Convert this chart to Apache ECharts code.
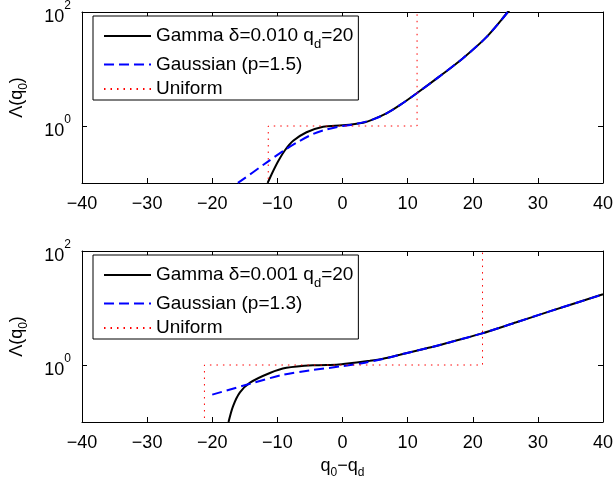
<!DOCTYPE html>
<html>
<head>
<meta charset="utf-8">
<script src="https://cdn.jsdelivr.net/npm/echarts@6/dist/echarts.min.js"></script>
<style>
  html, body { margin: 0; padding: 0; background: #fff; }
  #main { width: 615px; height: 480px; }
</style>
</head>
<body>
<div id="main"></div>
<script>
// values are [q0 - qd, log10(Lambda)]
var gammaTop = [[-11.5,-1.0],[-10.9,-0.85],[-9.88,-0.62],[-8.86,-0.43],[-7.57,-0.26],[-5.52,-0.11],[-2.97,-0.012],[0,0.012],[3.16,0.058],[4.7,0.116],[6.75,0.22],[8.8,0.365],[11.35,0.57],[14.9,0.87],[18.5,1.19],[22.1,1.56],[25.4,2.0],[26.5,2.15]];
var gaussTop = [[-20,-1.27],[-16.1,-1.0],[-11.4,-0.62],[-8.86,-0.42],[-6.55,-0.26],[-4.5,-0.14],[-2.45,-0.06],[0,0.0],[2.1,0.035],[4.7,0.116],[6.75,0.22],[8.8,0.365],[11.35,0.57],[14.9,0.87],[18.5,1.19],[22.1,1.56],[25.4,2.0],[26.5,2.15]];
var uniformTop = [[-11.4,-1.5],[-11.4,0],[11.45,0],[11.45,2.5]];

var gammaBot = [[-17.5,-1.0],[-16.8,-0.72],[-15.75,-0.48],[-14.2,-0.31],[-11.15,-0.14],[-8.6,-0.05],[-4.5,-0.005],[-0.9,0.005],[0.1,0.017],[4.2,0.075],[6.2,0.11],[8.8,0.18],[11.35,0.25],[13.9,0.32],[16.5,0.40],[21.3,0.55],[26.7,0.75],[31.8,0.94],[40,1.24]];
var gaussBot = [[-20,-0.52],[-14.2,-0.33],[-9.1,-0.17],[-5,-0.095],[0,-0.02],[3,0.03],[6.2,0.105],[8.8,0.18],[11.35,0.25],[13.9,0.32],[16.5,0.40],[21.3,0.55],[26.7,0.75],[31.8,0.94],[40,1.24]];
var uniformBot = [[-21.2,-1.5],[-21.2,0],[21.5,0],[21.5,2.5]];

var yTickExp = [0, 2];

var namesTop = ['Gamma \u03b4=0.010 q_d=20', 'Gaussian (p=1.5)', 'Uniform'];
var namesBot = ['Gamma \u03b4=0.001 q_d=20', 'Gaussian (p=1.3)', 'Uniform'];

var font = 'Liberation Sans, Arial, Helvetica, sans-serif';
var fs = 18;

var myChart = echarts.init(document.getElementById('main'));

function xAxisFor(grid, pos, showLabels) {
  return {
    type: 'value', gridIndex: grid, position: pos,
    min: -40, max: 40, interval: 10,
    axisLine: {show: true, onZero: false, lineStyle: {color: '#000', width: 1}},
    axisTick: {show: true, inside: true, length: 5, lineStyle: {color: '#000'}},
    splitLine: {show: false},
    axisLabel: {
      show: showLabels, margin: 12, color: '#000', fontFamily: font, fontSize: fs,
      formatter: function(v) { return v < 0 ? '\u2212' + (-v) : String(v); }
    }
  };
}

function yAxisFor(grid, pos, showLabels) {
  var ax = {
    type: 'value', gridIndex: grid, position: pos,
    min: -1, max: 2,
    axisLine: {show: true, onZero: false, lineStyle: {color: '#000', width: 1}},
    axisTick: {show: true, inside: true, length: 5, customValues: yTickExp, lineStyle: {color: '#000'}},
    splitLine: {show: false},
    axisLabel: {
      show: showLabels, margin: 11, color: '#000', fontFamily: font, fontSize: fs,
      customValues: yTickExp, padding: [10, 0, 0, 0],
      formatter: function(v) { return '10{sup|' + v + '}'; },
      rich: {sup: {fontSize: 12, lineHeight: 14, fontFamily: font, color: '#000', padding: [0, 0, 22, 0]}}
    }
  };
  if (showLabels) {
    ax.name = '\u039b(q{sub|0})';
    ax.nameLocation = 'middle';
    ax.nameGap = 56;
    ax.nameTextStyle = {
      color: '#000', fontFamily: font, fontSize: fs,
      rich: {sub: {fontSize: 12, lineHeight: 14, fontFamily: font, color: '#000', padding: [14, 0, 0, 0]}}
    };
  }
  return ax;
}

var xAxes = [xAxisFor(0, 'bottom', true), xAxisFor(1, 'bottom', true), xAxisFor(0, 'top', false), xAxisFor(1, 'top', false)];
xAxes[1].name = 'q{sub|0}\u2212q{sub|d}';
xAxes[1].nameLocation = 'middle';
xAxes[1].nameGap = 28;
xAxes[1].nameTextStyle = {
  color: '#000', fontFamily: font, fontSize: fs,
  rich: {sub: {fontSize: 12, lineHeight: 14, fontFamily: font, color: '#000', padding: [14, 0, 0, 0]}}
};

var yAxes = [yAxisFor(0, 'left', true), yAxisFor(1, 'left', true), yAxisFor(0, 'right', false), yAxisFor(1, 'right', false)];

function legendFor(top, names) {
  return {
    orient: 'vertical', left: 93, top: top,
    data: names, selectedMode: false,
    backgroundColor: '#fff', borderColor: '#000', borderWidth: 1, borderRadius: 0,
    padding: [5, 5, 0, 10], itemGap: 2.5, itemWidth: 47, itemHeight: 12,
    itemStyle: {opacity: 0},
    textStyle: {
      color: '#000', fontFamily: font, fontSize: 19, lineHeight: 22,
      rich: {sub: {fontSize: 13, lineHeight: 14, fontFamily: font, color: '#000', padding: [17, 0, 0, 0]}}
    },
    formatter: function(name) { return name.replace('q_d', 'q{sub|d}'); }
  };
}

function seriesFor(grid, names, gamma, gauss, uni) {
  return [{
    name: names[0], type: 'line', xAxisIndex: grid, yAxisIndex: grid,
    data: gamma, symbol: 'none', smooth: 0.3, clip: true,
    lineStyle: {color: '#000', width: 2}, itemStyle: {color: '#000', opacity: 0}
  }, {
    name: names[1], type: 'line', xAxisIndex: grid, yAxisIndex: grid,
    data: gauss, symbol: 'none', smooth: 0.3, clip: true,
    lineStyle: {color: '#0000ff', width: 2, type: [10, 5]}, itemStyle: {color: '#0000ff', opacity: 0}
  }, {
    name: names[2], type: 'line', xAxisIndex: grid, yAxisIndex: grid,
    data: uni, symbol: 'none', clip: true,
    lineStyle: {color: '#ff0000', width: 1, type: [1.5, 5]}, itemStyle: {color: '#ff0000', opacity: 0}
  }];
}

var option = {
  animation: false,
  backgroundColor: '#fff',
  grid: [
    {left: 82, top: 12, width: 521, height: 171, outerBoundsMode: 'none', containLabel: false},
    {left: 82, top: 251, width: 521, height: 171, outerBoundsMode: 'none', containLabel: false}
  ],
  legend: [legendFor(16, namesTop), legendFor(255, namesBot)],
  xAxis: xAxes,
  yAxis: yAxes,
  series: seriesFor(0, namesTop, gammaTop, gaussTop, uniformTop).concat(seriesFor(1, namesBot, gammaBot, gaussBot, uniformBot))
};

myChart.setOption(option);
</script>
</body>
</html>
